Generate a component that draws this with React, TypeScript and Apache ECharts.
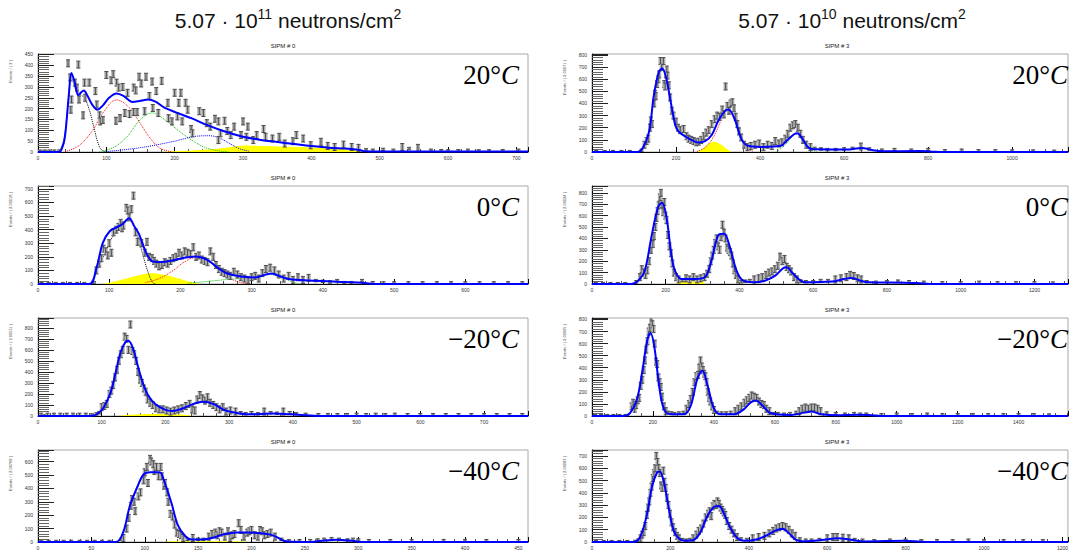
import { useEffect, useRef } from "react";
import * as echarts from "echarts";

// ---------- texts ----------
const HEADER_BASE = "5.07 · 10";
const HEADER_EXP = ["11", "10"];
const HEADER_UNIT = " neutrons/cm";
const TEMP_NUM = ["20°", "0°", "−20°", "−40°"];
const SIPM_TITLES = ["SIPM # 0", "SIPM # 3"];
const Y_NAMES_LEFT = ["Events / ( 2 )", "Events / ( 2.00018 )", "Events / ( 2.00011 )", "Events / ( 2.00768 )"];
const Y_NAMES_RIGHT = ["Events / ( 2.00071 )", "Events / ( 2.00024 )", "Events / ( 2.00005 )", "Events / ( 2.00083 )"];

// ---------- axis ranges ----------
const X_MAX_L = [717, 688, 769, 459];
const X_INT_L = [100, 100, 100, 50];
const Y_MAX_L = [452, 721, 889, 686];
const Y_INT_L = [50, 100, 100, 100];
const X_MAX_R = [1133, 1291, 1562, 1214];
const X_INT_R = [200, 200, 200, 200];
const Y_MAX_R = [808, 860, 812, 748];
const Y_INT_R = [100, 100, 100, 100];

// ---------- 5.07e11, 20 C ----------
const L20_pts = [[3,4],[10,4],[17,4],[24,4],[31,4],[44,409],[47,344],[49,242],[48,195],[59,403],[54,320],[57,297],[60,242],[68,320],[75,320],[69,250],[66,169],[84,281],[86,219],[90,169],[91,141],[95,148],[100,355],[107,331],[110,359],[115,320],[118,297],[124,300],[114,144],[120,156],[127,180],[134,175],[140,184],[131,273],[140,297],[148,347],[158,347],[151,316],[143,284],[167,325],[173,281],[181,328],[163,258],[168,203],[176,180],[156,188],[145,184],[190,227],[200,273],[209,273],[206,227],[191,156],[196,141],[204,164],[211,141],[216,227],[219,195],[224,106],[226,86],[236,188],[242,180],[247,133],[252,117],[259,153],[264,141],[273,144],[267,86],[264,55],[277,97],[282,78],[287,117],[300,141],[307,117],[297,78],[305,70],[315,55],[320,78],[330,106],[333,70],[343,62],[353,70],[361,39],[373,50],[378,78],[388,62],[399,31],[414,47],[424,28],[434,23],[447,34],[459,23],[469,19],[480,10],[490,8],[505,12],[520,8],[533,23],[543,16],[556,19],[575,8],[590,6],[600,5],[615,6],[629,8],[645,5],[660,5],[680,6],[703,8]];
const L20_fit = [[0,0],[31,0],[36,25],[39,62],[42,150],[45,260],[49,364],[53,330],[59,262],[63,275],[67,284],[72,262],[79,220],[87,195],[95,215],[104,250],[115,270],[126,257],[138,231],[150,236],[161,242],[172,232],[185,205],[201,184],[225,155],[247,125],[270,98],[297,73],[322,58],[348,47],[375,37],[399,28],[425,20],[449,16],[465,12],[472,8],[478,3],[500,2],[600,2],[717,2]];
const L20_black = [[31,0],[38,60],[44,220],[49,345],[55,290],[62,265],[68,250],[75,195],[82,110],[88,40],[93,10],[100,0]];
const L20_red = [[40,2],[60,30],[80,100],[95,180],[115,240],[135,200],[150,130],[165,60],[180,15],[195,2]];
const L20_green = [[90,2],[110,20],[130,70],[150,150],[167,180],[185,150],[205,100],[225,55],[245,20],[265,5],[280,0]];
const L20_blue = [[100,2],[150,20],[200,50],[230,72],[250,75],[265,65],[280,40],[295,15],[310,3]];
const L20_yellow = [[175,0],[200,4],[250,12],[280,22],[300,30],[330,28],[370,24],[410,20],[440,15],[470,8],[485,0]];

// ---------- 5.07e10, 20 C ----------
const R20_pts = [[10,3],[30,3],[50,3],[70,3],[90,3],[118,15],[125,60],[130,90],[134,110],[138,200],[140,260],[143,230],[148,400],[150,480],[152,460],[155,560],[158,600],[160,640],[163,750],[166,700],[170,750],[172,560],[174,540],[176,640],[178,680],[180,630],[183,550],[186,450],[190,340],[194,300],[200,250],[205,200],[210,180],[218,190],[225,130],[230,110],[236,100],[242,90],[248,80],[254,85],[260,100],[266,130],[272,160],[278,180],[285,230],[292,270],[298,300],[304,290],[310,350],[314,310],[318,540],[322,380],[326,340],[330,400],[334,410],[338,360],[342,290],[346,230],[350,170],[355,120],[362,60],[370,40],[378,50],[388,60],[398,70],[408,40],[418,60],[428,50],[436,90],[445,70],[452,80],[460,110],[466,150],[472,200],[478,220],[484,230],[490,200],[496,150],[502,100],[510,60],[520,40],[530,30],[545,25],[560,20],[580,20],[600,25],[620,30],[640,45],[660,25],[690,15],[720,20],[760,15],[800,20],[840,10],[880,15],[920,10],[960,10],[1000,8],[1050,8],[1100,6]];
const R20_fit = [[0,0],[108,0],[120,28],[136,169],[147,463],[159,660],[167,688],[176,618],[187,421],[198,225],[206,169],[230,112],[253,79],[269,90],[285,140],[300,253],[316,337],[325,351],[340,267],[355,112],[371,51],[402,42],[449,51],[465,98],[481,146],[489,154],[500,112],[516,34],[536,22],[606,20],[642,34],[669,14],[693,6],[779,8],[810,3],[840,0],[1133,0]];
const R20_red = [[250,5],[270,40],[290,130],[310,280],[325,345],[340,260],[355,110],[370,30],[385,5]];
const R20_green = [[440,5],[460,60],[480,140],[490,150],[505,100],[520,30],[535,5]];
const R20_yellow = [[250,0],[262,20],[275,60],[290,85],[305,65],[318,30],[332,0]];

// ---------- 5.07e11, 0 C ----------
const L0_pts = [[5,3],[15,3],[25,3],[35,3],[45,3],[55,3],[65,3],[78,10],[82,100],[86,150],[89,190],[92,260],[95,240],[98,210],[100,300],[103,230],[106,380],[110,400],[113,420],[116,450],[118,410],[120,430],[124,560],[126,540],[128,490],[131,550],[134,650],[137,380],[140,310],[145,300],[150,230],[153,310],[156,200],[160,190],[163,170],[166,150],[170,130],[174,140],[178,160],[182,150],[186,170],[190,190],[194,200],[198,230],[202,210],[206,240],[210,230],[214,220],[218,270],[222,200],[226,210],[230,180],[234,170],[238,160],[242,240],[246,200],[250,140],[254,110],[258,90],[262,80],[266,70],[270,60],[275,90],[280,70],[285,50],[290,40],[295,30],[300,50],[305,60],[310,40],[315,80],[320,110],[326,120],[332,100],[338,70],[345,40],[352,60],[358,30],[365,50],[372,30],[380,45],[390,25],[400,20],[410,15],[420,25],[430,10],[440,10],[455,25],[470,10],[485,8],[500,8],[520,8],[540,8],[560,8],[580,8],[600,8],[620,8],[640,8],[660,8],[680,8]];
const L0_fit = [[0,0],[72,0],[82,117],[91,303],[101,390],[111,419],[118,439],[128,484],[135,427],[142,365],[152,228],[161,166],[174,161],[193,179],[210,196],[222,203],[232,191],[241,166],[253,117],[265,79],[285,55],[304,47],[318,67],[328,77],[337,62],[352,37],[381,25],[420,17],[454,10],[468,2],[480,0],[688,0]];
const L0_black = [[75,10],[90,180],[105,350],[120,440],[128,470],[138,380],[148,200],[155,80],[161,10],[165,0]];
const L0_red = [[150,10],[170,40],[190,100],[205,160],[222,195],[240,165],[255,100],[270,40],[285,10],[295,0]];
const L0_green = [[210,5],[240,20],[270,35],[300,45],[325,70],[345,40],[360,10],[370,0]];
const L0_yellow = [[90,0],[105,15],[120,35],[140,62],[158,80],[175,70],[195,45],[212,18],[228,0]];

// ---------- 5.07e10, 0 C ----------
const R0_pts = [[10,3],[30,3],[50,3],[70,3],[90,3],[120,20],[130,60],[135,130],[140,100],[145,80],[150,120],[155,200],[160,300],[165,350],[168,420],[172,500],[175,580],[178,640],[181,690],[184,760],[187,800],[190,700],[193,630],[196,720],[199,600],[202,560],[206,430],[210,330],[214,270],[218,180],[222,100],[228,60],[235,40],[245,30],[255,50],[265,40],[275,60],[285,40],[295,50],[305,60],[312,90],[318,130],[322,200],[326,250],[330,300],[334,360],[338,400],[342,330],[346,300],[350,410],[354,520],[358,450],[362,400],[366,320],[370,300],[374,280],[378,250],[382,180],[386,120],[390,80],[396,40],[405,20],[415,25],[428,30],[440,40],[452,50],[462,60],[472,80],[480,100],[488,110],[496,130],[504,160],[510,240],[516,200],[522,220],[528,150],[534,130],[540,110],[548,60],[556,40],[566,25],[580,20],[600,20],[620,30],[640,30],[660,40],[675,50],[690,60],[700,80],[710,70],[720,50],[730,40],[745,20],[770,15],[800,20],[830,25],[860,20],[900,15],[950,10],[1000,10],[1050,15],[1100,10],[1150,10],[1200,10],[1250,8]];
const R0_fit = [[0,0],[107,0],[125,29],[143,117],[161,411],[179,674],[190,713],[202,587],[215,264],[225,117],[243,44],[279,44],[306,59],[324,205],[342,425],[358,440],[374,323],[392,117],[410,29],[442,15],[469,29],[497,73],[519,141],[528,147],[542,103],[560,44],[578,15],[651,21],[683,44],[705,53],[728,29],[750,15],[851,12],[896,5],[930,0],[1291,0]];
const R0_yellow = [[232,0],[236,22],[300,22],[306,0]];

// ---------- 5.07e11, -20 C ----------
const Lm20_pts = [[5,15],[15,15],[25,15],[35,15],[45,15],[55,15],[65,15],[75,15],[85,10],[92,20],[96,30],[100,80],[104,90],[108,110],[112,200],[115,230],[118,280],[121,350],[124,420],[127,500],[130,560],[133,600],[136,720],[139,700],[142,600],[145,830],[148,590],[151,560],[154,500],[157,400],[160,330],[163,300],[166,250],[169,220],[172,150],[176,120],[180,100],[185,70],[190,60],[196,60],[202,50],[208,40],[214,50],[220,60],[226,70],[232,90],[238,110],[242,60],[246,50],[250,150],[254,190],[258,160],[262,140],[266,170],[270,120],[275,100],[280,80],[285,60],[290,80],[295,40],[302,50],[310,40],[318,30],[326,20],[335,30],[345,20],[355,40],[365,30],[375,25],[385,40],[395,30],[405,20],[420,15],[440,12],[455,12],[470,12],[485,12],[500,15],[515,12],[530,15],[545,12],[560,15],[580,12],[600,12],[620,12],[640,12],[660,12],[680,12],[700,12],[720,12],[740,12],[760,12]];
const Lm20_fit = [[0,0],[81,0],[92,15],[103,77],[114,215],[122,400],[130,585],[138,677],[142,683],[149,615],[157,446],[165,292],[173,185],[184,108],[200,55],[211,46],[227,68],[243,108],[259,129],[276,108],[292,55],[308,31],[330,15],[368,22],[400,15],[422,6],[440,0],[769,0]];
const Lm20_yellow = [[128,0],[140,8],[160,15],[180,18],[200,18],[220,14],[235,8],[240,0]];

// ---------- 5.07e10, -20 C ----------
const Rm20_pts = [[10,3],[30,3],[50,3],[70,3],[90,3],[110,3],[130,80],[135,110],[140,60],[145,90],[150,130],[155,150],[160,250],[165,300],[170,380],[174,460],[178,550],[182,620],[186,700],[190,730],[194,790],[198,760],[202,720],[206,600],[210,450],[214,430],[218,320],[222,280],[226,240],[230,160],[236,80],[242,40],[250,30],[260,25],[270,20],[285,25],[300,30],[310,60],[318,100],[324,140],[330,200],[336,280],[342,330],[348,340],[352,400],[356,460],[360,410],[364,380],[368,350],[372,330],[376,280],[380,200],[384,150],[388,120],[394,80],[400,50],[410,30],[425,25],[440,25],[455,30],[470,40],[480,60],[490,80],[500,110],[508,130],[516,150],[524,170],[532,160],[540,150],[548,120],[556,100],[564,90],[572,60],[582,40],[595,20],[610,20],[630,15],[650,20],[670,30],[680,40],[690,60],[700,70],[710,60],[720,70],[730,70],[740,60],[750,40],[770,25],[800,20],[830,15],[860,20],[880,15],[900,15],[950,10],[1000,15],[1050,10],[1100,15],[1150,10],[1200,10],[1250,10],[1300,10],[1350,10],[1400,10],[1450,10],[1500,8]];
const Rm20_fit = [[0,0],[104,0],[126,28],[148,142],[165,369],[181,624],[192,687],[205,567],[220,255],[236,57],[258,14],[302,14],[324,85],[346,312],[362,374],[379,255],[401,57],[423,14],[467,14],[499,57],[521,113],[538,128],[560,85],[587,23],[653,9],[697,28],[719,37],[752,14],[807,6],[873,11],[917,6],[950,0],[1562,0]];

// ---------- 5.07e11, -40 C ----------
const Lm40_pts = [[3,4],[10,4],[17,4],[24,4],[31,4],[39,4],[46,4],[53,4],[60,4],[67,4],[78,20],[80,30],[83,100],[85,180],[87,270],[88,320],[90,300],[91,230],[94,340],[96,370],[99,460],[100,520],[102,560],[103,440],[105,620],[106,600],[108,580],[109,530],[111,560],[113,490],[115,560],[116,490],[118,420],[119,440],[121,370],[122,300],[124,210],[126,190],[128,130],[130,70],[132,60],[134,50],[136,30],[140,20],[145,30],[150,20],[155,20],[160,40],[163,60],[166,70],[168,50],[170,80],[172,70],[175,40],[178,80],[180,30],[182,50],[184,60],[188,140],[190,90],[193,40],[196,70],[198,80],[200,90],[203,50],[206,40],[208,90],[210,80],[212,50],[215,60],[218,70],[222,40],[228,20],[235,10],[245,10],[255,10],[262,15],[268,20],[275,25],[282,20],[290,15],[295,20],[300,15],[310,10],[330,10],[350,10],[380,10],[400,10],[420,10],[450,10]];
const Lm40_fit = [[0,0],[73,0],[80,78],[86,268],[93,410],[99,505],[105,521],[114,521],[118,457],[125,291],[131,126],[138,43],[144,19],[154,19],[164,31],[173,55],[186,71],[196,71],[209,66],[218,55],[225,31],[231,7],[241,2],[254,0],[264,7],[280,17],[296,7],[305,0],[459,0]];
const Lm40_yellow = [[120,0],[125,5],[190,5],[194,0]];

// ---------- 5.07e10, -40 C ----------
const Rm40_pts = [[10,3],[30,3],[50,3],[70,3],[90,3],[110,5],[118,15],[124,30],[128,60],[132,80],[136,130],[140,220],[143,280],[146,330],[149,400],[152,450],[155,520],[158,560],[161,600],[164,700],[167,650],[170,600],[173,560],[176,460],[179,440],[182,580],[185,490],[188,440],[191,360],[195,300],[199,230],[203,160],[207,120],[212,80],[217,50],[222,30],[230,20],[240,15],[250,20],[258,30],[266,60],[272,90],[278,110],[284,150],[290,200],[296,230],[300,250],[304,210],[308,290],[312,310],[316,300],[320,330],[324,310],[328,280],[332,260],[336,240],[340,220],[344,170],[350,130],[356,100],[362,70],[370,40],[380,25],[395,20],[410,30],[425,40],[440,50],[452,70],[462,90],[470,110],[478,120],[486,130],[494,120],[502,100],[510,70],[518,50],[530,25],[545,15],[560,15],[580,20],[600,30],[615,40],[625,40],[640,35],[655,30],[670,20],[690,15],[720,10],[760,15],[800,15],[840,10],[880,10],[920,10],[960,15],[1000,10],[1050,10],[1100,10],[1150,10]];
const Rm40_fit = [[0,0],[106,0],[123,43],[140,221],[153,450],[166,565],[173,573],[183,489],[196,272],[208,94],[221,31],[238,10],[260,18],[277,81],[294,209],[311,285],[324,293],[336,234],[354,107],[371,31],[388,10],[422,23],[447,56],[469,94],[486,107],[503,69],[520,18],[542,5],[592,18],[626,31],[660,18],[695,5],[797,10],[840,2],[870,0],[1214,0]];

// ---------- panel assembly ----------
type Comp = { data: number[][]; color: string };
type Body = { pts: number[][]; fit: number[][]; comps: Comp[]; yellow: number[][] | null };
type Panel = Body & {
  xmax: number; xint: number; ymax: number; yint: number; left: number; top: number;
  temp: string; yname: string; title: string;
};

const TOPS = [54, 186, 318, 450];
const LEFT_X = 38;
const RIGHT_X = 592;
const GRID_W = 490;
const GRID_H = 98;

const LEFT_PANELS: Body[] = [
  { pts: L20_pts, fit: L20_fit, comps: [
      { data: L20_black, color: "#000000" }, { data: L20_red, color: "#ff0000" },
      { data: L20_green, color: "#00bb00" }, { data: L20_blue, color: "#0000ff" }], yellow: L20_yellow },
  { pts: L0_pts, fit: L0_fit, comps: [
      { data: L0_black, color: "#000000" }, { data: L0_red, color: "#ff0000" },
      { data: L0_green, color: "#00bb00" }], yellow: L0_yellow },
  { pts: Lm20_pts, fit: Lm20_fit, comps: [], yellow: Lm20_yellow },
  { pts: Lm40_pts, fit: Lm40_fit, comps: [], yellow: Lm40_yellow },
];
const RIGHT_PANELS: Body[] = [
  { pts: R20_pts, fit: R20_fit, comps: [
      { data: R20_red, color: "#ff0000" }, { data: R20_green, color: "#00bb00" }], yellow: R20_yellow },
  { pts: R0_pts, fit: R0_fit, comps: [], yellow: R0_yellow },
  { pts: Rm20_pts, fit: Rm20_fit, comps: [], yellow: null },
  { pts: Rm40_pts, fit: Rm40_fit, comps: [], yellow: null },
];

const PANELS: Panel[] = [];
for (let r = 0; r < 4; r++) {
  PANELS.push({ ...LEFT_PANELS[r], xmax: X_MAX_L[r], xint: X_INT_L[r], ymax: Y_MAX_L[r], yint: Y_INT_L[r],
    left: LEFT_X, top: TOPS[r], temp: TEMP_NUM[r], yname: Y_NAMES_LEFT[r], title: SIPM_TITLES[0] });
  PANELS.push({ ...RIGHT_PANELS[r], xmax: X_MAX_R[r], xint: X_INT_R[r], ymax: Y_MAX_R[r], yint: Y_INT_R[r],
    left: RIGHT_X, top: TOPS[r], temp: TEMP_NUM[r], yname: Y_NAMES_RIGHT[r], title: SIPM_TITLES[1] });
}

function buildOption() {
  const grid: any[] = [];
  const xAxis: any[] = [];
  const yAxis: any[] = [];
  const series: any[] = [];
  const graphic: any[] = [];

  PANELS.forEach((p, i) => {
    grid.push({ left: p.left, top: p.top, width: GRID_W, height: GRID_H, show: true,
      borderColor: "#a8a8a8", borderWidth: 1, backgroundColor: "transparent" });
    xAxis.push({
      type: "value", gridIndex: i, min: 0, max: p.xmax, interval: p.xint,
      axisLine: { lineStyle: { color: "#000", width: 1 } },
      axisTick: { inside: true, length: 5, lineStyle: { color: "#000" } },
      minorTick: { show: true, splitNumber: 5, length: 3, lineStyle: { color: "#555" } },
      axisLabel: { fontSize: 5, color: "#333", margin: 3, fontFamily: "Liberation Sans",
        formatter: (v: number) => (v % p.xint === 0 ? String(v) : "") },
      splitLine: { show: false },
    });
    yAxis.push({
      type: "value", gridIndex: i, min: 0, max: p.ymax, interval: p.yint,
      axisLine: { lineStyle: { color: "#000", width: 1 } },
      axisTick: { inside: true, length: 16, lineStyle: { color: "#222" } },
      minorTick: { show: true, splitNumber: 5, length: 11, lineStyle: { color: "#666" } },
      axisLabel: { fontSize: 5, color: "#333", margin: 5, fontFamily: "Liberation Sans",
        formatter: (v: number) => (v % p.yint === 0 ? String(v) : "") },
      splitLine: { show: false },
    });

    if (p.yellow) {
      series.push({ type: "line", xAxisIndex: i, yAxisIndex: i, data: p.yellow, symbol: "none",
        smooth: 0.4, lineStyle: { width: 0 }, areaStyle: { color: "#ffff00", opacity: 1 }, z: 1, silent: true });
    }
    p.comps.forEach((c) => {
      series.push({ type: "line", xAxisIndex: i, yAxisIndex: i, data: c.data, symbol: "none",
        smooth: 0.4, lineStyle: { width: 1, type: "dotted", color: c.color }, z: 2, silent: true });
    });
    const ymax = p.ymax;
    series.push({
      type: "custom", xAxisIndex: i, yAxisIndex: i, data: p.pts, z: 3, silent: true, clip: true,
      encode: { x: 0, y: 1 },
      renderItem: (_params: any, api: any) => {
        const x = api.value(0);
        const y = api.value(1);
        const c = api.coord([x, y]);
        const h = y < ymax * 0.04 ? 1.2 : 3.5;
        const w = 2;
        const st = { stroke: "#4d4d4d", lineWidth: 1 };
        return {
          type: "group",
          children: [
            { type: "rect", shape: { x: c[0] - w, y: c[1] - h, width: 2 * w, height: 2 * h }, style: { fill: "#b0b0b0" } },
            { type: "line", shape: { x1: c[0], y1: c[1] - h, x2: c[0], y2: c[1] + h }, style: st },
            { type: "line", shape: { x1: c[0] - w, y1: c[1] - h, x2: c[0] + w, y2: c[1] - h }, style: st },
            { type: "line", shape: { x1: c[0] - w, y1: c[1] + h, x2: c[0] + w, y2: c[1] + h }, style: st },
          ],
        };
      },
    });
    series.push({ type: "line", xAxisIndex: i, yAxisIndex: i, data: p.fit, symbol: "none",
      smooth: 0.35, lineStyle: { width: 2, color: "#0000ff" }, z: 4, silent: true });

    graphic.push({ type: "text", x: p.left + GRID_W / 2, y: p.top - 8,
      style: { text: p.title, fontSize: 6, fontFamily: "Liberation Sans", fill: "#222", align: "center", verticalAlign: "middle" } });
    graphic.push({ type: "text", x: p.left - 28, y: p.top + 6, rotation: Math.PI / 2,
      style: { text: p.yname, fontSize: 4, fontFamily: "Liberation Sans", fill: "#444", align: "right", verticalAlign: "middle" } });
    const tx = p.left === LEFT_X ? 519 : 1068;
    graphic.push({ type: "text", x: tx, y: p.top + 21, z: 10,
      style: { text: `{a|${p.temp}}{c|C}`, align: "right", verticalAlign: "middle",
        rich: {
          a: { fontSize: 27, fontFamily: "Liberation Serif", fill: "#000" },
          c: { fontSize: 27, fontFamily: "Liberation Serif", fontStyle: "italic", fill: "#000" },
        } } });
  });

  [288, 852].forEach((cx, k) => {
    graphic.push({ type: "text", x: cx, y: 20,
      style: { text: `{b|${HEADER_BASE}}{s|${HEADER_EXP[k]}}{b|${HEADER_UNIT}}{s|2}`, align: "center", verticalAlign: "middle",
        rich: {
          b: { fontSize: 21, fontFamily: "Liberation Sans Narrow, Liberation Sans", fill: "#111", lineHeight: 26 },
          s: { fontSize: 14, fontFamily: "Liberation Sans Narrow, Liberation Sans", fill: "#111", verticalAlign: "top", lineHeight: 26 },
        } } });
  });

  return { animation: false, backgroundColor: "#ffffff", grid, xAxis, yAxis, series, graphic };
}

export default function App() {
  const ref = useRef<HTMLDivElement>(null);
  useEffect(() => {
    if (!ref.current) return;
    const chart = echarts.init(ref.current, undefined, { renderer: "svg" });
    chart.setOption(buildOption());
    return () => chart.dispose();
  }, []);
  return <div ref={ref} style={{ position: "fixed", left: 0, top: 0, width: 1071, height: 550, background: "#fff" }} />;
}
